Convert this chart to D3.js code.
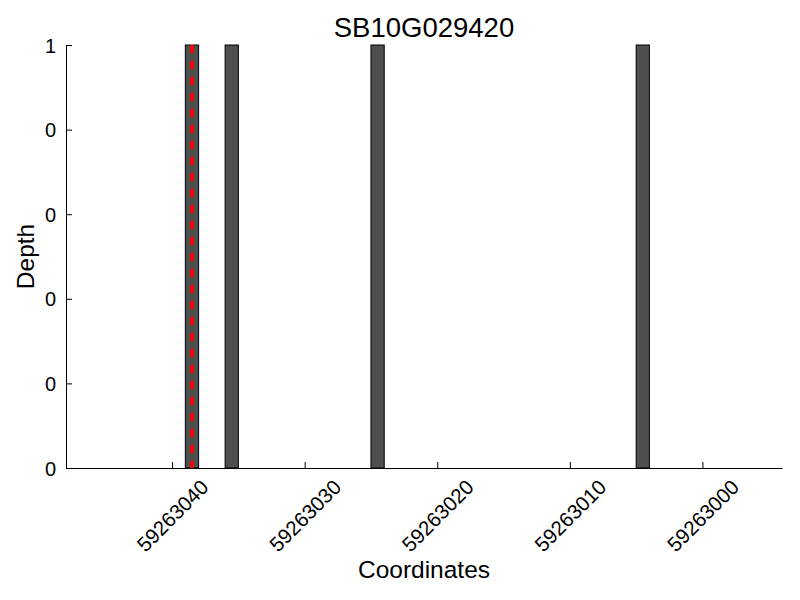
<!DOCTYPE html>
<html>
<head>
<meta charset="utf-8">
<script src="https://cdn.jsdelivr.net/npm/d3@7"></script>
<style>
    body { margin: 0; background: #fff; }
    text { font-family: "Liberation Sans", Arial, sans-serif; fill: #000; }
    .axis path, .axis line { stroke: #000; }
</style>
</head>
<body>
<div id="vis"></div>
<script>
// Bar positions (coordinates) and their depths
var positions = [59263038, 59263035, 59263024, 59263004];
var depths = [1, 1, 1, 1];

// Marked site (red dashed line)
var markers = [59263038.5];

// X domain (reversed axis) and tick values
var xDomain = [59263048, 59262994];
var xTicks = [59263040, 59263030, 59263020, 59263010, 59263000];

// Y ticks and the labels as they appear
var yTicks = [0, 0.2, 0.4, 0.6, 0.8, 1];
var yTickLabels = ['0', '0', '0', '0', '0', '1'];

var margin = { left: 66, right: 18, top: 45, bottom: 132 };
var width = 800, height = 600;
var drawWidth = width - margin.left - margin.right;
var drawHeight = height - margin.top - margin.bottom;

var svg = d3.select('#vis').append('svg')
    .attr('width', width)
    .attr('height', height);

var g = svg.append('g')
    .attr('transform', 'translate(' + margin.left + ',' + margin.top + ')');

var xScale = d3.scaleLinear().domain(xDomain).range([0, drawWidth]);
var yScale = d3.scaleLinear().domain([0, 1]).range([drawHeight, 0]);

// Bars: each spans [p, p + 1]
g.selectAll('rect.bar')
    .data(positions)
    .enter().append('rect')
    .attr('class', 'bar')
    .attr('x', function(d) { return xScale(d + 1); })
    .attr('width', function(d) { return xScale(d) - xScale(d + 1); })
    .attr('y', function(d, i) { return yScale(depths[i]); })
    .attr('height', function(d, i) { return drawHeight - yScale(depths[i]); })
    .attr('fill', '#4f4f4f')
    .attr('stroke', '#000')
    .attr('stroke-width', 1);

// Red dashed marker
g.selectAll('line.marker')
    .data(markers)
    .enter().append('line')
    .attr('class', 'marker')
    .attr('x1', function(d) { return xScale(d); })
    .attr('x2', function(d) { return xScale(d); })
    .attr('y1', 0)
    .attr('y2', drawHeight)
    .attr('stroke', 'red')
    .attr('stroke-width', 3.5)
    .attr('stroke-dasharray', '8,8');

// Axes, ticks pointing inward
var xAxis = d3.axisBottom(xScale)
    .tickValues(xTicks)
    .tickSizeInner(-6)
    .tickSizeOuter(0)
    .tickFormat(d3.format('d'));

var yAxis = d3.axisLeft(yScale)
    .tickValues(yTicks)
    .tickSizeInner(-6)
    .tickSizeOuter(0)
    .tickPadding(10)
    .tickFormat(function(d, i) { return yTickLabels[i]; });

var xAxisG = g.append('g')
    .attr('class', 'axis')
    .attr('transform', 'translate(0,' + drawHeight + ')')
    .call(xAxis);

var yAxisG = g.append('g')
    .attr('class', 'axis')
    .call(yAxis);

yAxisG.selectAll('text')
    .style('font-size', '20px')
    .attr('dy', '0.35em');

// Rotated x tick labels, centred under their tick
xAxisG.selectAll('.tick text')
    .style('font-size', '20.5px')
    .attr('text-anchor', 'middle')
    .attr('dy', '0.35em')
    .attr('y', 0)
    .attr('transform', function() {
        var len = this.getComputedTextLength();
        var h = 20.5 * 0.75;
        var half = (len + h) * Math.SQRT1_2 / 2;
        return 'translate(0,' + (10 + half) + ') rotate(-45)';
    });

// Titles
svg.append('text')
    .attr('x', margin.left + drawWidth / 2)
    .attr('y', 37)
    .attr('text-anchor', 'middle')
    .style('font-size', '27.5px')
    .text('SB10G029420');

svg.append('text')
    .attr('x', margin.left + drawWidth / 2)
    .attr('y', 578)
    .attr('text-anchor', 'middle')
    .style('font-size', '24.5px')
    .text('Coordinates');

svg.append('text')
    .attr('transform', 'translate(34,' + (margin.top + drawHeight / 2) + ') rotate(-90)')
    .attr('text-anchor', 'middle')
    .style('font-size', '24.5px')
    .text('Depth');
</script>
</body>
</html>
